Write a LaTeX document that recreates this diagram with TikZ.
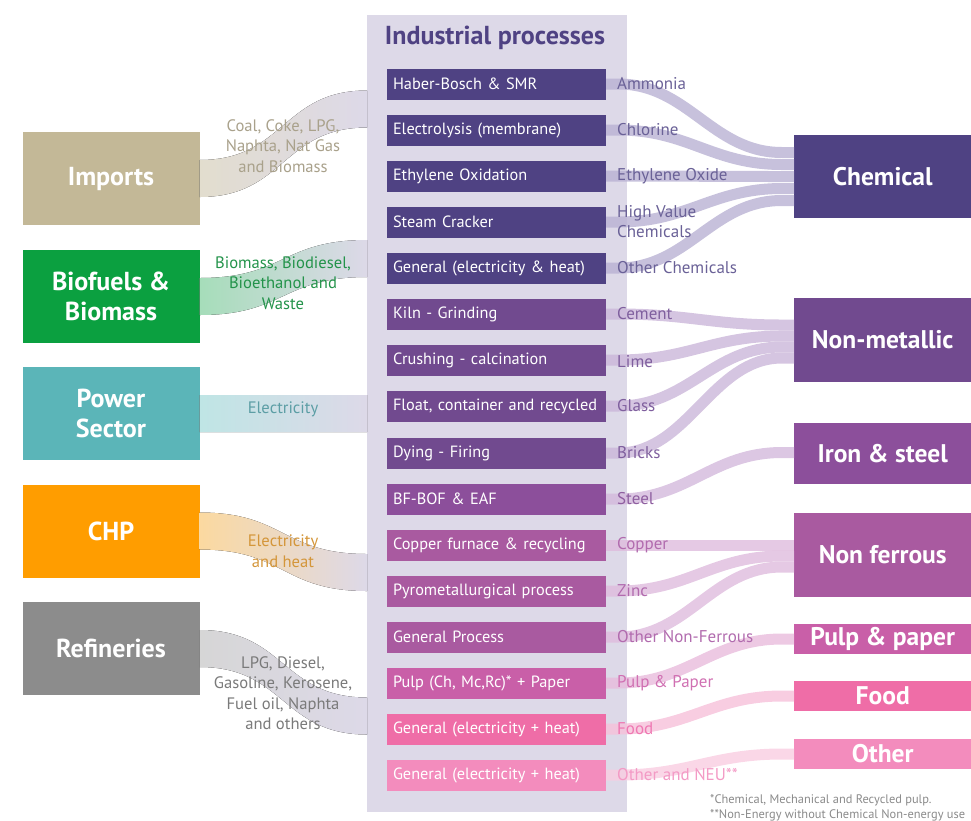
\documentclass[tikz,border=0pt]{standalone}
\usepackage{fontspec}
\setmainfont{PT Sans}
\usetikzlibrary{calc}
\definecolor{colbg}{HTML}{DDD9E8}
\definecolor{titlec}{HTML}{4F4283}
\definecolor{cA}{HTML}{4F4283}
\definecolor{cB}{HTML}{714A8F}
\definecolor{cC}{HTML}{8C4F9B}
\definecolor{cD}{HTML}{A95AA0}
\definecolor{cE}{HTML}{C95FA8}
\definecolor{cF}{HTML}{EF6DA7}
\definecolor{cG}{HTML}{F38CBD}
\definecolor{bA}{HTML}{B9B2D3}
\definecolor{bB}{HTML}{CBB6D9}
\definecolor{bC}{HTML}{D3B9DC}
\definecolor{bD}{HTML}{DFBCDD}
\definecolor{bE}{HTML}{E8BCDC}
\definecolor{bF}{HTML}{F6C0DA}
\definecolor{bG}{HTML}{F9CDE1}
\definecolor{tA}{HTML}{6A6197}
\definecolor{tB}{HTML}{7F5F9E}
\definecolor{tC}{HTML}{8F5FA0}
\definecolor{tD}{HTML}{B16BAE}
\definecolor{tE}{HTML}{D070B2}
\definecolor{tF}{HTML}{EF78B2}
\definecolor{tG}{HTML}{F39AC5}
\definecolor{impc}{HTML}{C3B897}
\definecolor{bioc}{HTML}{0BA040}
\definecolor{powc}{HTML}{5BB5B8}
\definecolor{chpc}{HTML}{FF9D00}
\definecolor{refc}{HTML}{8C8C8C}
\definecolor{impl}{HTML}{E2DDCE}
\definecolor{biol}{HTML}{A6DDBA}
\definecolor{powl}{HTML}{BFE5E5}
\definecolor{chpl}{HTML}{FBD9A0}
\definecolor{refl}{HTML}{D6D6D6}
\definecolor{impt}{HTML}{A9A18B}
\definecolor{biot}{HTML}{23934A}
\definecolor{powt}{HTML}{5C9EA5}
\definecolor{chpt}{HTML}{D4963A}
\definecolor{reft}{HTML}{7A7A7A}
\definecolor{notec}{HTML}{8A8A8A}
\newcommand\srcband[3]{%
  \fill[left color=#3, right color=colbg]
    ($(#1.east)+(0,-18.5)$) .. controls +(85,0) and +(-85,0) .. ($(#2)+(0,-18.5)$)
    -- ($(#2)+(0,18.5)$) .. controls +(-85,0) and +(85,0) .. ($(#1.east)+(0,18.5)$) -- cycle;}
\newcommand\prodflow[4]{%
  \draw[band, #1] (#2.east) -- ++(12,0) .. controls +(70,0) and +(-70,0) .. ($(#3.west)+(-12,#4)$) -- ($(#3.west)+(0,#4)$);}
\begin{document}
\begin{tikzpicture}[x=1pt,y=-1pt,
  proc/.style={minimum height=31pt, text width=207pt, inner xsep=6pt, inner ysep=0pt, align=left, text=white, font=\fontsize{16.3}{19}\selectfont},
  lab/.style={anchor=west, inner sep=0pt, font=\fontsize{17}{20}\selectfont, align=left},
  dst/.style={anchor=west, minimum width=177pt, inner sep=0pt, text=white, font=\bfseries\fontsize{25.5}{28}\selectfont},
  src/.style={minimum width=177pt, minimum height=93pt, inner sep=0pt, text=white, align=center, font=\bfseries\fontsize{26}{30}\selectfont},
  srclab/.style={align=center, inner sep=0pt, font=\fontsize{16.6}{20.5}\selectfont},
  band/.style={line width=11pt, opacity=0.8},
  note/.style={anchor=west, inner sep=0pt, text=notec, font=\fontsize{12.4}{14}\selectfont}]
\useasboundingbox (0,0) rectangle (971,820);
% middle column
\node[fill=colbg, minimum width=260pt, minimum height=797pt, inner sep=0pt, anchor=north west] (col) at (367,15) {};
\node[text=titlec, font=\bfseries\fontsize{26}{30}\selectfont, inner sep=0pt] (title) at (495,38) {Industrial processes};
% source boxes
\node[src, fill=impc] (imp) at (111,178.5) {Imports};
\node[src, fill=bioc] (bio) at (111,296.5) {Biofuels \&\\Biomass};
\node[src, fill=powc] (pow) at (111,413.5) {Power\\Sector};
\node[src, fill=chpc] (chp) at (111,531) {CHP};
\node[src, fill=refc] (ref) at (111,648.5) {Refineries};
% band end points on the column
\coordinate (impEnd) at ($(col.north west)+(0,94)$);
\coordinate (bioEnd) at ($(col.north west)+(0,243.5)$);
\coordinate (powEnd) at ($(col.north west)+(0,398.5)$);
\coordinate (chpEnd) at ($(col.north west)+(0,557.5)$);
\coordinate (refEnd) at ($(col.north west)+(0,701)$);
\srcband{imp}{impEnd}{impl}
\srcband{bio}{bioEnd}{biol}
\srcband{pow}{powEnd}{powl}
\srcband{chp}{chpEnd}{chpl}
\srcband{ref}{refEnd}{refl}
% source labels
\node[srclab, text=impt] (impL) at (283,146) {Coal, Coke, LPG,\\Naphta, Nat Gas\\and Biomass};
\node[srclab, text=biot] (bioL) at (283,283) {Biomass, Biodiesel,\\Bioethanol and\\Waste};
\node[srclab, text=powt] (powL) at (283,409) {Electricity};
\node[srclab, text=chpt] (chpL) at (283,551) {Electricity\\and heat};
\node[srclab, text=reft] (refL) at (283,693) {LPG, Diesel,\\Gasoline, Kerosene,\\Fuel oil, Naphta\\and others};
% process boxes
\node[proc, fill=cA] (p1) at (496.5,84) {Haber-Bosch \& SMR};
\node[proc, fill=cA] (p2) at (496.5,130) {Electrolysis (membrane)};
\node[proc, fill=cA] (p3) at (496.5,176) {Ethylene Oxidation};
\node[proc, fill=cA] (p4) at (496.5,222) {Steam Cracker};
\node[proc, fill=cA] (p5) at (496.5,268) {General (electricity \& heat)};
\node[proc, fill=cB] (p6) at (496.5,314) {Kiln - Grinding};
\node[proc, fill=cB] (p7) at (496.5,360) {Crushing - calcination};
\node[proc, fill=cB] (p8) at (496.5,406) {Float, container and recycled};
\node[proc, fill=cB] (p9) at (496.5,453) {Dying - Firing};
\node[proc, fill=cC] (p10) at (496.5,499) {BF-BOF \& EAF};
\node[proc, fill=cD] (p11) at (496.5,545) {Copper furnace \& recycling};
\node[proc, fill=cD] (p12) at (496.5,591) {Pyrometallurgical process};
\node[proc, fill=cD] (p13) at (496.5,637) {General Process};
\node[proc, fill=cE] (p14) at (496.5,683) {Pulp (Ch, Mc,Rc)* + Paper};
\node[proc, fill=cF] (p15) at (496.5,729) {General (electricity + heat)};
\node[proc, fill=cG] (p16) at (496.5,775) {General (electricity + heat)};
% destination boxes
\node[dst, fill=cA, minimum height=83pt] (chem) at (794,176.5) {Chemical};
\node[dst, fill=cB, minimum height=84pt] (nonmet) at (794,340) {Non-metallic};
\node[dst, fill=cC, minimum height=61pt] (iron) at (794,453.5) {Iron \& steel};
\node[dst, fill=cD, minimum height=84pt] (nonfer) at (794,555) {Non ferrous};
\node[dst, fill=cE, minimum height=30pt] (pulp) at (794,639) {Pulp \& paper};
\node[dst, fill=cF, minimum height=30pt] (food) at (794,696) {Food};
\node[dst, fill=cG, minimum height=30pt] (other) at (794,754) {Other};
% product flows
\prodflow{bA}{p1}{chem}{-24}
\prodflow{bA}{p2}{chem}{-12}
\prodflow{bA}{p3}{chem}{0}
\prodflow{bA}{p4}{chem}{12}
\prodflow{bA}{p5}{chem}{24}
\prodflow{bB}{p6}{nonmet}{-15}
\prodflow{bB}{p7}{nonmet}{-4}
\prodflow{bB}{p8}{nonmet}{7}
\prodflow{bB}{p9}{nonmet}{18}
\prodflow{bC}{p10}{iron}{-1}
\prodflow{bD}{p11}{nonfer}{-10}
\prodflow{bD}{p12}{nonfer}{1}
\prodflow{bD}{p13}{nonfer}{12}
\prodflow{bE}{p14}{pulp}{0}
\prodflow{bF}{p15}{food}{0}
\prodflow{bG}{p16}{other}{0}
% product labels
\node[lab, text=tA] (l1) at (617,84) {Ammonia};
\node[lab, text=tA] (l2) at (617,130) {Chlorine};
\node[lab, text=tA] (l3) at (617,176) {Ethylene Oxide};
\node[lab, text=tA] (l4) at (617,222) {High Value\\Chemicals};
\node[lab, text=tA] (l5) at (617,268) {Other Chemicals};
\node[lab, text=tB] (l6) at (617,314) {Cement};
\node[lab, text=tB] (l7) at (617,362) {Lime};
\node[lab, text=tB] (l8) at (617,406) {Glass};
\node[lab, text=tB] (l9) at (617,453) {Bricks};
\node[lab, text=tC] (l10) at (617,499) {Steel};
\node[lab, text=tD] (l11) at (617,545) {Copper};
\node[lab, text=tD] (l12) at (617,591) {Zinc};
\node[lab, text=tD] (l13) at (617,637) {Other Non-Ferrous};
\node[lab, text=tE] (l14) at (617,683) {Pulp \& Paper};
\node[lab, text=tF] (l15) at (617,729) {Food};
\node[lab, text=tG] (l16) at (617,775) {Other and NEU**};
% footnotes
\node[note] (n1) at (710,800) {*Chemical, Mechanical and Recycled pulp.};
\node[note] (n2) at (710,815) {**Non-Energy without Chemical Non-energy use};
\end{tikzpicture}
\end{document}
